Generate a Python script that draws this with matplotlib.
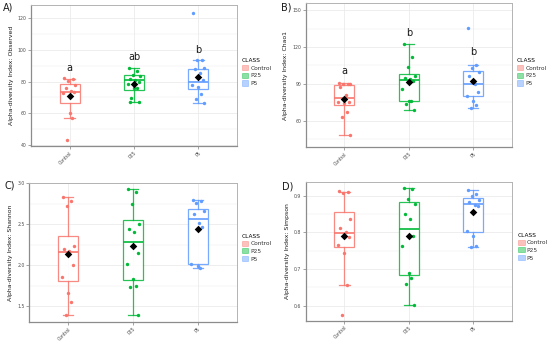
import matplotlib

matplotlib.use("Agg")
import matplotlib.pyplot as plt
from matplotlib.patches import Patch
from matplotlib.ticker import MultipleLocator

groups = ["Control", "P25", "P5"]
group_colors = ["#F8766D", "#00BA38", "#619CFF"]

# Observed
obs_points = [
    [82, 81.5, 80.3, 78, 75.8, 74.3, 73.7, 73, 60, 57.2, 43.1],
    [88.4, 86.5, 84, 83.6, 81.7, 81, 80, 78.6, 75.8, 75.8, 69.7, 67, 67],
    [122.9, 93.8, 93.6, 88.4, 87.8, 85.2, 81, 77.9, 76.4, 72, 68.9, 66.2],
]
obs_lo = [57.2, 67.0, 66.2]
obs_q1 = [66.8, 74.6, 75.2]
obs_med = [73.7, 80.8, 79.8]
obs_q3 = [78.3, 84.0, 87.8]
obs_hi = [81.9, 88.4, 93.8]
obs_mean = [70.6, 78.5, 83.1]
obs_letters = ["a", "ab", "b"]
obs_letter_y = [88.8, 95.3, 99.9]

# Chao1
chao_points = [
    [90.4, 90.1, 89.8, 89.5, 87.2, 81.2, 75.2, 75.0, 74.5, 66.8, 63, 48],
    [122.2, 112.1, 103.7, 96.1, 95, 94.2, 92, 85.8, 76.3, 76.0, 73.3, 68.7],
    [135.7, 105.3, 103.2, 99.9, 96.6, 90.1, 83.1, 80.4, 76.3, 72.5, 70],
]
chao_lo = [48.0, 68.7, 70.0]
chao_q1 = [72.5, 76.3, 79.8]
chao_med = [78.5, 92.9, 89.9]
chao_q3 = [89.3, 98.0, 100.5]
chao_hi = [90.4, 122.2, 105.3]
chao_mean = [77.6, 91.2, 92.0]
chao_letters = ["a", "b", "b"]
chao_letter_y = [100.5, 131.7, 116.2]

# Shannon
shan_points = [
    [2.827, 2.79, 2.726, 2.238, 2.2, 2.177, 2.0, 1.863, 1.665, 1.556, 1.399],
    [2.927, 2.895, 2.746, 2.5, 2.44, 2.407, 2.15, 2.012, 1.835, 1.746, 1.734, 1.391],
    [2.794, 2.78, 2.758, 2.661, 2.629, 2.52, 2.472, 2.016, 1.996, 1.964],
]
shan_lo = [1.399, 1.391, 1.964]
shan_q1 = [1.81, 1.819, 2.012]
shan_med = [2.165, 2.282, 2.569]
shan_q3 = [2.359, 2.556, 2.685]
shan_hi = [2.827, 2.927, 2.794]
shan_mean = [2.133, 2.23, 2.44]

# Simpson
simp_points = [
    [0.911, 0.909, 0.907, 0.837, 0.811, 0.801, 0.788, 0.766, 0.743, 0.657, 0.575],
    [0.921, 0.918, 0.890, 0.878, 0.849, 0.835, 0.789, 0.764, 0.689, 0.675, 0.660, 0.602],
    [0.915, 0.905, 0.899, 0.889, 0.883, 0.875, 0.872, 0.804, 0.790, 0.763, 0.761],
]
simp_lo = [0.657, 0.602, 0.761]
simp_q1 = [0.760, 0.685, 0.800]
simp_med = [0.798, 0.810, 0.877]
simp_q3 = [0.854, 0.881, 0.892]
simp_hi = [0.909, 0.921, 0.915]
simp_mean = [0.791, 0.789, 0.854]

# fixed horizontal spread for the points (cycled)
JITTER = [-0.08, 0.05, -0.02, 0.09, -0.06, 0.02, 0.07, -0.1, 0.0, 0.04, -0.04, 0.08, -0.07]

GRID = "#ebebeb"
TICK_GREY = "#4d4d4d"


def draw_panel(ax, points, lo, q1, med, q3, hi, means, ylabel, ylim, major, yticks_fmt=None,
               letters=None, letter_y=None):
    ax.set_xlim(0.4, 3.6)
    ax.set_ylim(*ylim)
    ax.yaxis.set_major_locator(MultipleLocator(major))
    ax.yaxis.set_minor_locator(MultipleLocator(major / 2))
    ax.grid(which="major", color=GRID, linewidth=0.6)
    ax.grid(which="minor", color=GRID, linewidth=0.3)
    ax.set_axisbelow(True)

    for i, name in enumerate(groups):
        col = group_colors[i]
        pos = i + 1
        stats = [{"whislo": lo[i], "q1": q1[i], "med": med[i], "q3": q3[i],
                  "whishi": hi[i], "fliers": []}]
        ax.bxp(stats, positions=[pos], widths=0.31, showfliers=False,
               patch_artist=True,
               boxprops=dict(facecolor="white", edgecolor=col, linewidth=0.9, alpha=0.85),
               medianprops=dict(color=col, linewidth=1.2),
               whiskerprops=dict(color=col, linewidth=0.9, alpha=0.85),
               capprops=dict(color=col, linewidth=0.9, alpha=0.85),
               capwidths=0.16, manage_ticks=False)
        xs = [pos + JITTER[k % len(JITTER)] for k in range(len(points[i]))]
        ax.scatter(xs, points[i], s=6, color=col, zorder=4, linewidths=0)
        ax.scatter([pos], [means[i]], s=15, marker="D", color="black", zorder=5, linewidths=0)
        if letters is not None:
            ax.text(pos, letter_y[i], letters[i], ha="center", va="center", fontsize=7,
                    color="#1a1a1a")

    ax.set_xticks([1, 2, 3])
    ax.set_xticklabels(groups, rotation=45, ha="right", rotation_mode="anchor")
    ax.tick_params(axis="both", labelsize=3.3, colors="#7f7f7f", labelcolor=TICK_GREY,
                   length=2, width=0.5, pad=1.2)
    ax.tick_params(which="minor", length=0)
    if yticks_fmt:
        ax.yaxis.set_major_formatter(yticks_fmt)
    ax.set_ylabel(ylabel, fontsize=4.4, color="#1a1a1a", labelpad=3)
    for side in ["left", "bottom"]:
        ax.spines[side].set_color("#8c8c8c")
        ax.spines[side].set_linewidth(0.9)
    for side in ["top", "right"]:
        ax.spines[side].set_color("#b3b3b3")
        ax.spines[side].set_linewidth(0.7)


def add_legend(fig, ax, x, y):
    handles = [Patch(facecolor=c, edgecolor=c, alpha=0.45, linewidth=0.6) for c in group_colors]
    leg = ax.legend(handles, groups, title="CLASS", loc="upper left", bbox_to_anchor=(x, y),
                    bbox_transform=fig.transFigure, frameon=False, fontsize=4.2,
                    title_fontsize=4.2, handlelength=1.1, handleheight=1.0,
                    handletextpad=0.4, labelspacing=0.35, borderaxespad=0, borderpad=0)
    leg._legend_box.align = "left"
    for t in leg.get_texts():
        t.set_color("#333333")


fig = plt.figure(figsize=(5.5, 3.41), dpi=100)
fig.patch.set_facecolor("white")

ax_a = fig.add_axes([0.0564, 0.5718, 0.3745, 0.4135])
ax_b = fig.add_axes([0.5558, 0.5698, 0.375, 0.4205])
ax_c = fig.add_axes([0.0533, 0.0560, 0.377, 0.4065])
ax_d = fig.add_axes([0.5558, 0.0600, 0.375, 0.4055])

draw_panel(ax_a, obs_points, obs_lo, obs_q1, obs_med, obs_q3, obs_hi, obs_mean,
           "Alpha-diversity Index: Observed", (39.4, 128.2), 20,
           letters=obs_letters, letter_y=obs_letter_y)
draw_panel(ax_b, chao_points, chao_lo, chao_q1, chao_med, chao_q3, chao_hi, chao_mean,
           "Alpha-diversity Index: Chao1", (38.8, 155.6), 30,
           letters=chao_letters, letter_y=chao_letter_y)
draw_panel(ax_c, shan_points, shan_lo, shan_q1, shan_med, shan_q3, shan_hi, shan_mean,
           "Alpha-diversity Index: Shannon", (1.31, 3.0), 0.5, yticks_fmt="{x:.1f}")
draw_panel(ax_d, simp_points, simp_lo, simp_q1, simp_med, simp_q3, simp_hi, simp_mean,
           "Alpha-diversity Index: Simpson", (0.560, 0.936), 0.1, yticks_fmt="{x:.1f}")

add_legend(fig, ax_a, 0.440, 0.830)
add_legend(fig, ax_b, 0.940, 0.830)
add_legend(fig, ax_c, 0.440, 0.315)
add_legend(fig, ax_d, 0.942, 0.318)

fig.text(0.006, 0.978, "A)", fontsize=7, va="center", color="#1a1a1a")
fig.text(0.511, 0.978, "B)", fontsize=7, va="center", color="#1a1a1a")
fig.text(0.008, 0.455, "C)", fontsize=7, va="center", color="#1a1a1a")
fig.text(0.513, 0.452, "D)", fontsize=7, va="center", color="#1a1a1a")

fig.savefig("out.png", dpi=100)
